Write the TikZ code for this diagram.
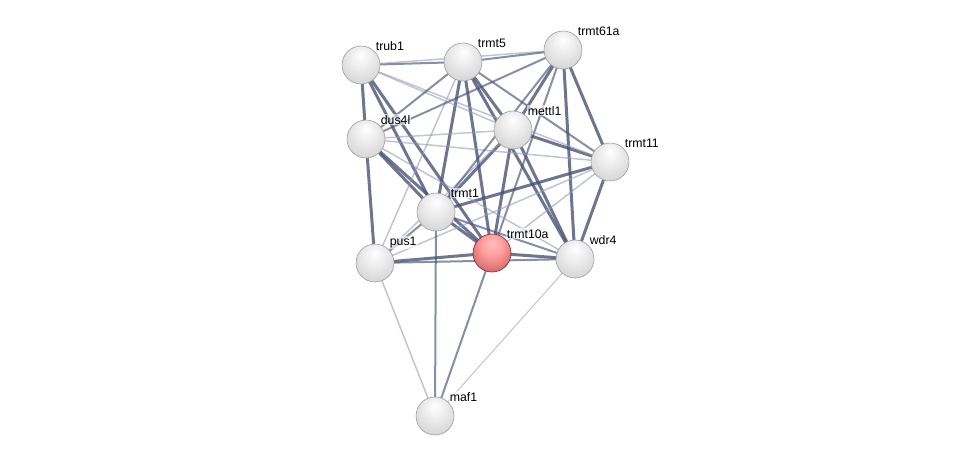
\documentclass[tikz,border=0pt]{standalone}
\usepackage{fontspec}
\setmainfont{Liberation Sans}
\usetikzlibrary{backgrounds}

\definecolor{edgedark}{RGB}{72,82,118}
\definecolor{edgelight}{RGB}{150,156,182}
\pgfdeclareradialshading{greyball}{\pgfpoint{0bp}{14bp}}{color(0bp)=(white); color(14bp)=(white!93!black); color(30bp)=(white!84!black); color(44bp)=(white!74!black); color(50bp)=(white!58!black)}
\pgfdeclareradialshading{redball}{\pgfpoint{0bp}{14bp}}{color(0bp)=(white!75!red); color(14bp)=(white!62!red); color(30bp)=(white!50!red!85!black); color(44bp)=(white!40!red!80!black); color(50bp)=(red!55!black)}
\tikzset{
  gene/.style={circle, minimum size=38pt, inner sep=0pt, draw=gray!75, line width=0.6pt, shading=greyball},
  query/.style={gene, shading=redball, draw={rgb,255:red,130;green,35;blue,40}},
  lbl/.style={font=\fontsize{12.3}{13}\selectfont, inner sep=1pt, fill=white, fill opacity=0.6, text opacity=1},
  strong/.style={edgedark, line width=3pt, opacity=0.8},
  mid/.style={edgedark, line width=2pt, opacity=0.65},
  weak/.style={edgelight, line width=1.5pt, opacity=0.6}
}

\begin{document}
\begin{tikzpicture}[x=1pt, y=-1pt]
\useasboundingbox (0,0) rectangle (975,461);

\node[gene, label={[lbl]45:trub1}] (trub1) at (361,65) {};
\node[gene, label={[lbl]45:trmt5}] (trmt5) at (463,62) {};
\node[gene, label={[lbl]45:trmt61a}] (trmt61a) at (563,50) {};
\node[gene, label={[lbl]45:dus4l}] (dus4l) at (366,139) {};
\node[gene, label={[lbl]45:mettl1}] (mettl1) at (513,130) {};
\node[gene, label={[lbl]45:trmt11}] (trmt11) at (610,162) {};
\node[gene, label={[lbl]45:trmt1}] (trmt1) at (436,212) {};
\node[query, label={[lbl]45:trmt10a}] (trmt10a) at (492,253) {};
\node[gene, label={[lbl]45:pus1}] (pus1) at (375,263) {};
\node[gene, label={[lbl]45:wdr4}] (wdr4) at (575,259) {};
\node[gene, label={[lbl]45:maf1}] (maf1) at (435,416) {};

\begin{scope}[on background layer]
\draw[strong] (trub1.center) -- (dus4l.center); \draw[strong] (dus4l.center) -- (pus1.center);
\draw[strong] (trub1.center) -- (trmt1.center); \draw[strong] (trub1.center) -- (trmt10a.center);
\draw[strong] (dus4l.center) -- (trmt1.center); \draw[strong] (dus4l.center) -- (trmt10a.center);
\draw[strong] (trmt5.center) -- (trmt1.center); \draw[strong] (trmt5.center) -- (trmt10a.center);
\draw[strong] (trmt5.center) -- (mettl1.center); \draw[strong] (trmt5.center) -- (wdr4.center);
\draw[strong] (trmt61a.center) -- (mettl1.center); \draw[strong] (trmt61a.center) -- (wdr4.center);
\draw[strong] (trmt61a.center) -- (trmt11.center); \draw[mid] (trmt61a.center) -- (trmt10a.center);
\draw[strong] (mettl1.center) -- (wdr4.center); \draw[strong] (mettl1.center) -- (trmt10a.center);
\draw[strong] (mettl1.center) -- (trmt1.center); \draw[strong] (mettl1.center) -- (trmt11.center);
\draw[strong] (trmt10a.center) -- (wdr4.center); \draw[strong] (trmt10a.center) -- (pus1.center);
\draw[strong] (trmt10a.center) -- (trmt1.center); \draw[strong] (trmt1.center) -- (trmt11.center);
\draw[strong] (trmt11.center) -- (wdr4.center); \draw[mid] (trmt10a.center) -- (maf1.center);
\draw[weak] (trmt10a.center) -- (trmt11.center); \draw[mid] (pus1.center) -- (trmt1.center);
\draw[weak] (pus1.center) -- (trmt11.center); \draw[mid] (pus1.center) -- (wdr4.center);
\draw[weak] (pus1.center) -- (mettl1.center); \draw[weak] (pus1.center) -- (trmt5.center);
\draw[mid] (trmt1.center) -- (maf1.center); \draw[weak] (pus1.center) -- (maf1.center);
\draw[weak, line width=1pt] (wdr4.center) -- (maf1.center);
\draw[mid] (trub1.center) -- (trmt5.center); \draw[weak] (trub1.center) -- (trmt61a.center);
\draw[mid] (trmt5.center) -- (trmt61a.center); \draw[weak] (trub1.center) -- (mettl1.center);
\draw[weak] (trub1.center) -- (trmt11.center); \draw[weak] (dus4l.center) -- (mettl1.center);
\draw[weak] (dus4l.center) -- (trmt11.center); \draw[mid] (trmt5.center) -- (trmt11.center);
\draw[mid] (trmt5.center) -- (dus4l.center); \draw[mid] (trmt61a.center) -- (dus4l.center);
\draw[mid] (trmt61a.center) -- (trmt1.center); \draw[mid] (trmt1.center) -- (wdr4.center);
\draw[weak] (dus4l.center) -- (wdr4.center);
\end{scope}
\end{tikzpicture}
\end{document}
